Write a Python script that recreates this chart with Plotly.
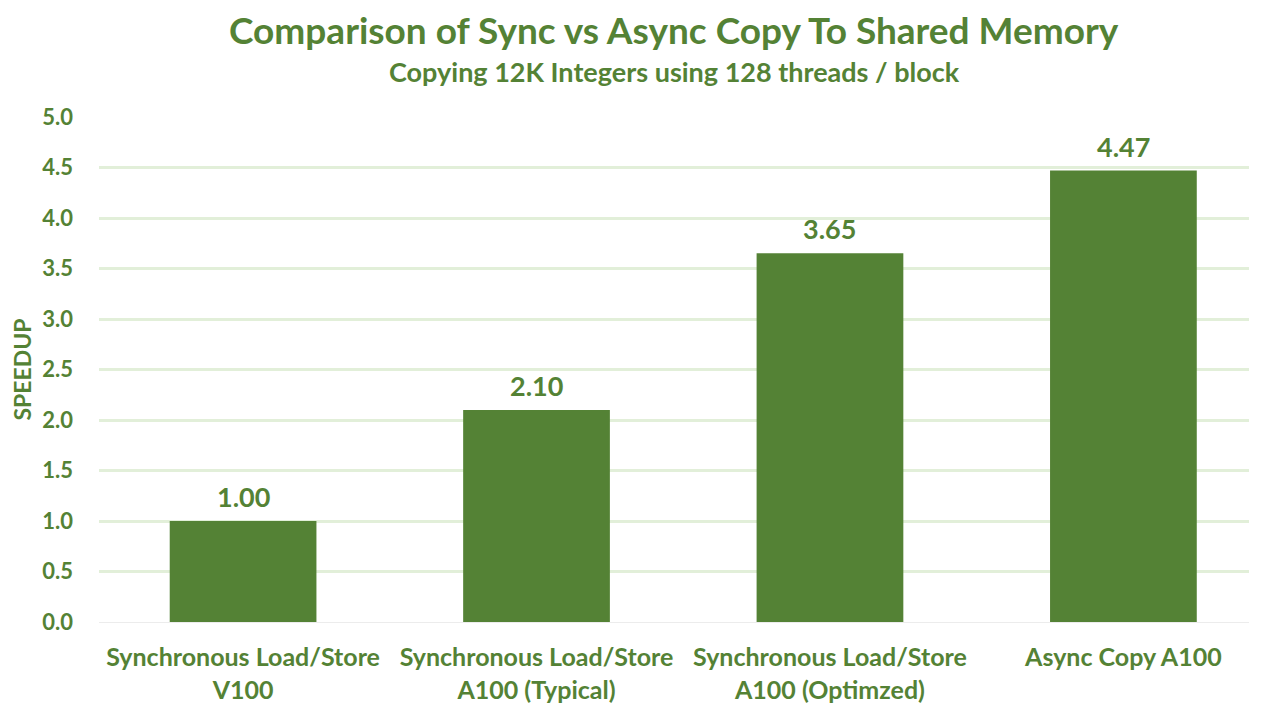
import plotly.graph_objects as go

categories = [
    "Synchronous Load/Store<br>V100",
    "Synchronous Load/Store<br>A100 (Typical)",
    "Synchronous Load/Store<br>A100 (Optimzed)",
    "Async Copy A100",
]
speedup = [1.00, 2.10, 3.65, 4.47]
y_ticks = [0, 0.5, 1.0, 1.5, 2.0, 2.5, 3.0, 3.5, 4.0, 4.5, 5.0]

GREEN = "#548235"
GRID = "#e2efd9"
FONT = "Lato, Open Sans, sans-serif"

fig = go.Figure(go.Bar(
    x=list(range(len(categories))), y=speedup,
    marker=dict(color=GREEN, line=dict(width=0)),
    width=0.5,
))

# value labels above bars
for i, v in enumerate(speedup):
    fig.add_annotation(x=i, y=v, xref="x", yref="y", text=f"{v:.2f}",
                       yanchor="bottom", yshift=6, showarrow=False,
                       font=dict(size=27, color=GREEN, family=FONT, weight="bold"))

fig.update_layout(
    width=1266, height=704,
    margin=dict(l=91, r=25, t=109, b=90),
    plot_bgcolor="white", paper_bgcolor="white",
    font=dict(family=FONT, color=GREEN),
    showlegend=False,
)

fig.update_xaxes(
    range=[-0.491, 3.428],
    tickvals=list(range(len(categories))), ticktext=categories,
    tickfont=dict(size=25, color=GREEN, family=FONT, weight="bold"),
    showgrid=False, showline=False, ticks="",
    ticklabelstandoff=18,
    automargin=False,
)
fig.update_yaxes(
    range=[0, 5], tickvals=y_ticks,
    tickformat=".1f",
    tickfont=dict(size=22, color=GREEN, family=FONT, weight="bold"),
    gridcolor=GRID, gridwidth=3,
    zeroline=True, zerolinecolor="#ececec", zerolinewidth=1,
    ticklabelstandoff=25,
    automargin=False,
    title=dict(text="SPEEDUP", font=dict(size=23, color=GREEN, family=FONT, weight="bold"), standoff=13),
)

fig.add_annotation(text="Comparison of Sync vs Async Copy To Shared Memory",
                   xref="paper", yref="paper", x=0.5, y=1.0, yanchor="middle", yshift=88,
                   showarrow=False, font=dict(size=37, color=GREEN, family=FONT, weight="bold"))
fig.add_annotation(text="Copying 12K Integers using 128 threads / block",
                   xref="paper", yref="paper", x=0.5, y=1.0, yanchor="middle", yshift=46,
                   showarrow=False, font=dict(size=27, color=GREEN, family=FONT, weight="bold"))

fig.write_html("out.html")
